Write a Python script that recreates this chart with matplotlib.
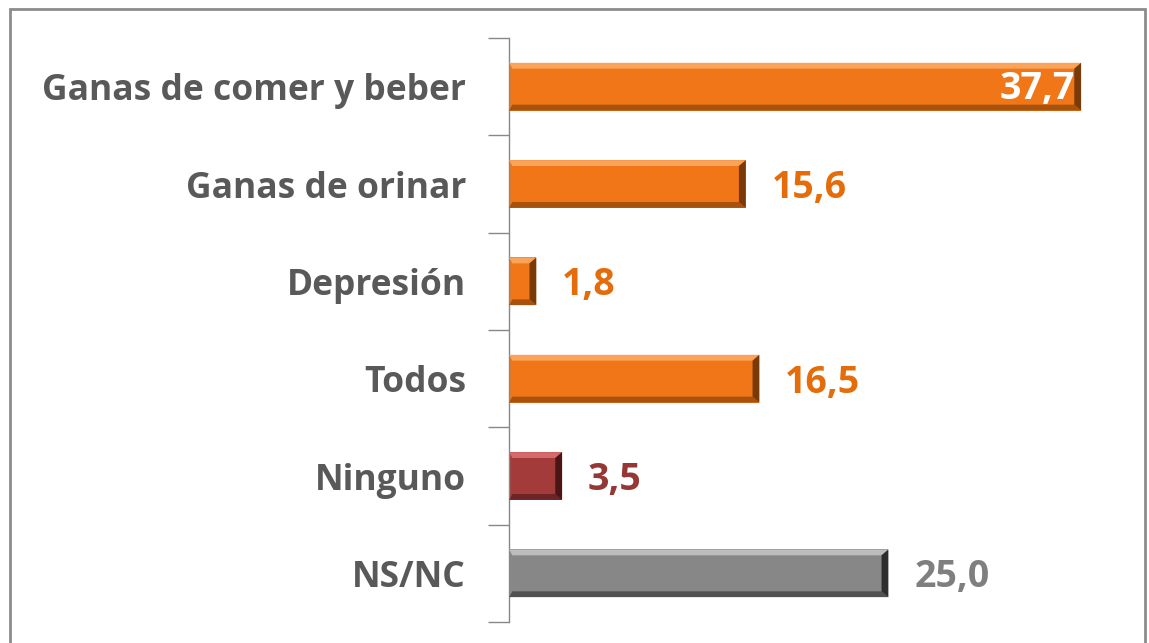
import matplotlib.pyplot as plt
from matplotlib.patches import Rectangle, Polygon

categories = ["Ganas de comer y beber", "Ganas de orinar", "Depresión", "Todos", "Ninguno", "NS/NC"]
values = [37.7, 15.6, 1.8, 16.5, 3.5, 25.0]
labels = ["37,7", "15,6", "1,8", "16,5", "3,5", "25,0"]

orange = ("#F07617", "#F9A45A", "#7A3A08")
red = ("#A33B3B", "#D46A6A", "#4A1515")
grey = ("#878787", "#BDBDBD", "#2E2E2E")
bar_styles = [orange, orange, orange, orange, red, grey]
text_colors = ["white", "#E46C0A", "#E46C0A", "#E46C0A", "#953735", "#7F7F7F"]

plt.rcParams['font.family'] = ['Open Sans', 'DejaVu Sans']

fig = plt.figure(figsize=(11.49, 6.43), dpi=100)
ax = fig.add_axes([509/1149, 1 - 622/643, (1116-509)/1149, (622-38)/643])

y = list(range(len(categories)))
h = 0.49
bars = ax.barh(y, values, height=h, color=[s[0] for s in bar_styles], zorder=2)

# bevel: light top strip, dark bottom strip, dark right end
bx = 0.45
by = 0.06
for b, s in zip(bars, bar_styles):
    x0 = b.get_x()
    x1 = x0 + b.get_width()
    y0 = b.get_y()          # top on inverted axis
    y1 = y0 + b.get_height()  # bottom on inverted axis
    ax.add_patch(Polygon([(x0, y0), (x1, y0), (x1 - bx, y0 + by), (x0 + bx * 0.5, y0 + by)],
                         closed=True, color=s[1], lw=0, zorder=3))
    ax.add_patch(Polygon([(x0, y1), (x1, y1), (x1 - bx, y1 - by), (x0 + bx * 0.5, y1 - by)],
                         closed=True, color=s[2], alpha=0.6, lw=0, zorder=3))
    ax.add_patch(Polygon([(x1, y0), (x1, y1), (x1 - bx, y1 - by), (x1 - bx, y0 + by)],
                         closed=True, color=s[2], lw=0, zorder=3))

for i, (v, lab, c) in enumerate(zip(values, labels, text_colors)):
    if i == 0:
        ax.text(v - 0.4, i + 0.02, lab, ha='right', va='center', color=c,
                fontsize=27, fontweight='bold', zorder=4)
    else:
        ax.text(v + 1.7, i + 0.04, lab, ha='left', va='center', color=c,
                fontsize=27, fontweight='bold', zorder=4)

ax.set_xlim(0, 40)
ax.set_ylim(len(categories) - 0.5, -0.5)
ax.set_yticks(y)
ax.set_yticklabels(categories, fontsize=25.5, fontweight='bold', color="#595959")
ax.set_yticks([i - 0.5 for i in range(len(categories) + 1)], minor=True)
ax.tick_params(axis='y', which='major', length=0, pad=31)
ax.tick_params(axis='y', which='minor', length=15, width=1, color="#888888")
ax.set_xticks([])
for side in ['top', 'right', 'bottom']:
    ax.spines[side].set_visible(False)
ax.spines['left'].set_color("#888888")
ax.spines['left'].set_linewidth(1)

# outer chart border (bottom edge lies outside the picture)
fig.patches.append(Rectangle((10/1149, -0.05), (1145-10)/1149, 1 - 9/643 + 0.05,
                             transform=fig.transFigure, fill=False,
                             edgecolor="#8C8C8C", linewidth=2))

fig.savefig("out.png", dpi=100)
